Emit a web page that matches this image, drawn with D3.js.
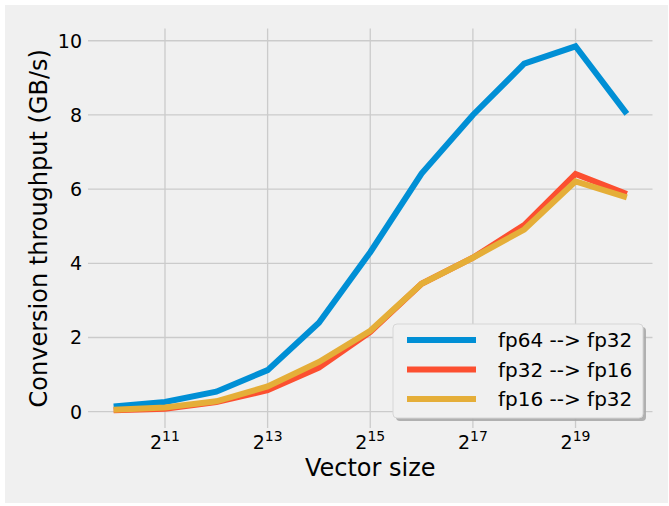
<!DOCTYPE html>
<html>
<head>
<meta charset="utf-8">
<script src="https://cdn.jsdelivr.net/npm/d3@7"></script>
<style>
  html, body { margin: 0; padding: 0; background: #ffffff; }
  svg { display: block; font-family: "DejaVu Sans", sans-serif; }
</style>
</head>
<body>
<svg id="chart" width="669" height="506"></svg>
<script>
// ---- data ----
const exponents = [10, 11, 12, 13, 14, 15, 16, 17, 18, 19, 20];
const seriesNames = ["fp64 --> fp32", "fp32 --> fp16", "fp16 --> fp32"];
const fp64ToFp32 = [0.14, 0.26, 0.54, 1.12, 2.40, 4.30, 6.42, 8.00, 9.38, 9.85, 8.03];
const fp32ToFp16 = [0.04, 0.08, 0.26, 0.58, 1.19, 2.15, 3.45, 4.15, 5.03, 6.41, 5.87];
const fp16ToFp32 = [0.05, 0.11, 0.28, 0.68, 1.34, 2.18, 3.45, 4.15, 4.91, 6.21, 5.78];
const seriesColors = ["#008fd5", "#fc4f30", "#e5ae38"];
const xTickExps = [11, 13, 15, 17, 19];
const yTicks = [0, 2, 4, 6, 8, 10];

const seriesValues = [fp64ToFp32, fp32ToFp16, fp16ToFp32];

const svg = d3.select("#chart");

// figure background
svg.append("rect").attr("x", 5).attr("y", 5).attr("width", 663).attr("height", 498).attr("fill", "#f0f0f0");

const plot = { left: 88, right: 652.5, top: 28.5, bottom: 428 };

const x = d3.scaleLog().base(2)
  .domain([Math.pow(2, 9.5), Math.pow(2, 20.5)])
  .range([plot.left, plot.right]);
const y = d3.scaleLinear()
  .domain([-0.44, 10.33])
  .range([plot.bottom, plot.top]);

// grid
const grid = svg.append("g");
grid.selectAll("line.h").data(yTicks).enter().append("line")
  .attr("x1", plot.left).attr("x2", plot.right)
  .attr("y1", d => y(d)).attr("y2", d => y(d))
  .attr("stroke", "#cbcbcb").attr("stroke-width", 1.3);
grid.selectAll("line.v").data(xTickExps).enter().append("line")
  .attr("y1", plot.top).attr("y2", plot.bottom)
  .attr("x1", d => x(Math.pow(2, d))).attr("x2", d => x(Math.pow(2, d)))
  .attr("stroke", "#cbcbcb").attr("stroke-width", 1.3);

// y tick labels
svg.append("g").selectAll("text").data(yTicks).enter().append("text")
  .attr("x", plot.left - 6).attr("y", d => y(d))
  .attr("dy", "0.36em")
  .attr("text-anchor", "end")
  .attr("font-size", 19)
  .attr("fill", "#000")
  .text(d => d);

// x tick labels 2^n
const xt = svg.append("g").selectAll("text").data(xTickExps).enter().append("text")
  .attr("x", d => x(Math.pow(2, d)))
  .attr("y", 449)
  .attr("text-anchor", "middle")
  .attr("font-size", 19)
  .attr("fill", "#000");
xt.append("tspan").text("2");
xt.append("tspan").attr("font-size", 14).attr("dy", -8).text(d => d);

// axis labels
svg.append("text")
  .attr("x", (plot.left + plot.right) / 2).attr("y", 476)
  .attr("text-anchor", "middle").attr("font-size", 24).attr("fill", "#000")
  .text("Vector size");
svg.append("text")
  .attr("transform", `translate(47, ${(plot.top + plot.bottom) / 2}) rotate(-90)`)
  .attr("text-anchor", "middle").attr("font-size", 24).attr("fill", "#000")
  .text("Conversion throughput (GB/s)");

// lines
const line = d3.line()
  .x((d, i) => x(Math.pow(2, exponents[i])))
  .y(d => y(d));
svg.append("g").selectAll("path").data(seriesValues).enter().append("path")
  .attr("d", d => line(d))
  .attr("fill", "none")
  .attr("stroke", (d, i) => seriesColors[i])
  .attr("stroke-width", 6)
  .attr("stroke-linejoin", "miter")
  .attr("stroke-linecap", "butt");

// legend
const lg = { x: 393, y: 324, w: 250, h: 94 };
svg.append("rect")
  .attr("x", lg.x + 3).attr("y", lg.y + 3).attr("width", lg.w).attr("height", lg.h)
  .attr("rx", 4).attr("fill", "#a8a8a8").attr("opacity", 0.9);
svg.append("rect")
  .attr("x", lg.x).attr("y", lg.y).attr("width", lg.w).attr("height", lg.h)
  .attr("rx", 4).attr("fill", "#f0f0f0").attr("stroke", "#d6d6d6").attr("stroke-width", 1);
const items = svg.append("g").selectAll("g").data(seriesNames).enter().append("g")
  .attr("transform", (d, i) => `translate(0, ${340 + i * 29.5})`);
items.append("line")
  .attr("x1", 407).attr("x2", 476).attr("y1", 0).attr("y2", 0)
  .attr("stroke", (d, i) => seriesColors[i]).attr("stroke-width", 6);
items.append("text")
  .attr("x", 498).attr("y", 0).attr("dy", "0.36em")
  .attr("font-size", 20).attr("fill", "#000")
  .text(d => d);
</script>
</body>
</html>
